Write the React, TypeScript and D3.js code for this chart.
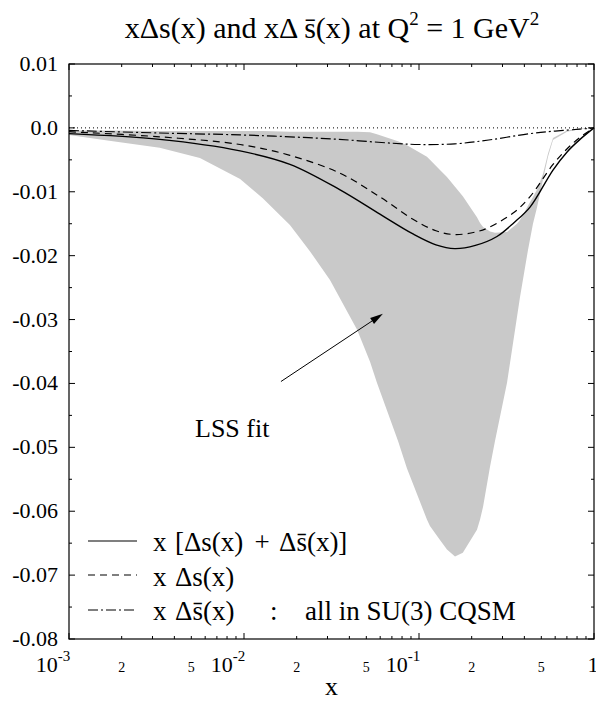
import React from "react";
import * as d3 from "d3";

const W = 596;
const H = 704;
const FONT = "Liberation Serif, Times New Roman, Times, serif";

// x [Δs(x) + Δs̄(x)]  (solid)
const solidX = [0.001, 0.0033, 0.0095, 0.0183, 0.0354, 0.0598, 0.0924, 0.125, 0.16, 0.21, 0.279, 0.35, 0.431, 0.583, 0.70, 0.832, 1];
const solidY = [-0.0009, -0.0018, -0.0036, -0.0057, -0.0097, -0.0135, -0.0166, -0.0183, -0.0189, -0.0184, -0.0170, -0.0148, -0.0124, -0.0066, -0.0038, -0.0018, 0];

// x Δs(x)  (dashed)
const dashedX = [0.001, 0.0033, 0.0095, 0.0183, 0.0354, 0.0598, 0.0924, 0.125, 0.16, 0.21, 0.25, 0.35, 0.43, 0.58, 0.70, 0.83, 1];
const dashedY = [-0.0006, -0.0014, -0.0026, -0.0043, -0.0071, -0.0108, -0.0143, -0.0161, -0.0167, -0.0163, -0.0156, -0.0132, -0.0108, -0.0058, -0.0033, -0.0015, 0];

// x Δs̄(x)  (dash-dot)
const dashDotX = [0.001, 0.0033, 0.0095, 0.0183, 0.035, 0.07, 0.1, 0.16, 0.25, 0.43, 0.6, 0.83, 1];
const dashDotY = [-0.0004, -0.0008, -0.0011, -0.0014, -0.0018, -0.0024, -0.0026, -0.0025, -0.0019, -0.0009, -0.0005, -0.0002, 0];

// LSS fit band
const bandX = [0.001, 0.0017, 0.0033, 0.0056, 0.0095, 0.0128, 0.0183, 0.0238, 0.031, 0.0443, 0.0525, 0.0575, 0.0759, 0.0854, 0.111, 0.1155, 0.1318, 0.1445, 0.1606, 0.178, 0.2144, 0.2233, 0.2323, 0.2547, 0.2718, 0.3184, 0.363, 0.3776, 0.4196, 0.448, 0.472, 0.511, 0.546, 0.583, 0.701, 0.832, 1];
const bandLow = [-0.0011, -0.0020, -0.0031, -0.0047, -0.0080, -0.0110, -0.0152, -0.0193, -0.0238, -0.0316, -0.0366, -0.0399, -0.0490, -0.0533, -0.0613, -0.0623, -0.0645, -0.0660, -0.0671, -0.0665, -0.0629, -0.0613, -0.0593, -0.0530, -0.0490, -0.0399, -0.0296, -0.0265, -0.0191, -0.0150, -0.0125, -0.0081, -0.0045, -0.0019, -0.0006, -0.0002, 0];
const bandHigh = [-0.0004, -0.0004, -0.0005, -0.0005, -0.0005, -0.0005, -0.0006, -0.0006, -0.0006, -0.0006, -0.0007, -0.0010, -0.0021, -0.0027, -0.0045, -0.0050, -0.0066, -0.0077, -0.0092, -0.0107, -0.0140, -0.0149, -0.0155, -0.0162, -0.0164, -0.0163, -0.0150, -0.0144, -0.0122, -0.0108, -0.0097, -0.0072, -0.0040, -0.0016, -0.0004, -0.0001, 0];

const yTicks = [0.01, 0.0, -0.01, -0.02, -0.03, -0.04, -0.05, -0.06, -0.07, -0.08];
const yTickLabels = ["0.01", "0.0", "-0.01", "-0.02", "-0.03", "-0.04", "-0.05", "-0.06", "-0.07", "-0.08"];
const xDecades = [0.001, 0.01, 0.1, 1];
const xDecadeExp = ["-3", "-2", "-1", ""];
const xMinorMult = [2, 3, 4, 5, 6, 7, 8, 9];
const xMinorLabeled = [2, 5];

// arrow annotation (data coords): from -> to
const arrowFrom = [0.01626, -0.0397];
const arrowTo = [0.0622, -0.0291];
const lssLabelPos = [0.00525, -0.0484];

export default function App() {
  const left = 69, right = 594, top = 64, bottom = 639;
  const x = d3.scaleLog().domain([0.001, 1]).range([left, right]);
  const y = d3.scaleLinear().domain([-0.08, 0.01]).range([bottom, top]);

  const line = d3.line<[number, number]>().x(d => x(d[0])).y(d => y(d[1])).curve(d3.curveCatmullRom.alpha(0.5));
  const area = d3.area<number>()
    .x((_, i) => x(bandX[i]))
    .y0((_, i) => y(bandLow[i]))
    .y1((_, i) => y(bandHigh[i]))
    .curve(d3.curveLinear);

  const zip = (a: number[], b: number[]) => a.map((v, i) => [v, b[i]] as [number, number]);

  const minorTicksY = d3.range(0, 19).map(i => 0.01 - i * 0.005);
  const minorX: number[] = [];
  xDecades.slice(0, 3).forEach(dcd => xMinorMult.forEach(m => minorX.push(dcd * m)));

  const ax1 = x(arrowFrom[0]), ay1 = y(arrowFrom[1]);
  const ax2 = x(arrowTo[0]), ay2 = y(arrowTo[1]);
  const ang = Math.atan2(ay2 - ay1, ax2 - ax1);
  const hl = 13, hw = 3.5;
  const bx = ax2 - hl * Math.cos(ang), by = ay2 - hl * Math.sin(ang);
  const head = `${ax2},${ay2} ${bx - hw * Math.sin(ang)},${by + hw * Math.cos(ang)} ${bx + hw * Math.sin(ang)},${by - hw * Math.cos(ang)}`;

  const sbar = "s\u0304";
  const ts = { fontFamily: FONT };
  const LF = 27;

  return (
    <svg width={W} height={H} style={{ position: "absolute", left: 0, top: 0, background: "#fff", fontFamily: FONT }}>
      <rect x={0} y={0} width={W} height={H} fill="#fff" />
      {/* title */}
      <text x={332} y={38} textAnchor="middle" fontSize={30} style={ts}>
        xΔs(x) and xΔ {sbar}(x) at Q<tspan dy={-13} fontSize={19}>2</tspan>
        <tspan dy={13}> = 1 GeV</tspan><tspan dy={-13} fontSize={19}>2</tspan>
      </text>

      {/* band */}
      <path d={area(bandX) || ""} fill="#c9c9c9" stroke="none" />

      {/* zero line */}
      <line x1={left} x2={right} y1={y(0)} y2={y(0)} stroke="#000" strokeWidth={1} strokeDasharray="1,3" />

      {/* curves */}
      <path d={line(zip(dashDotX, dashDotY)) || ""} fill="none" stroke="#000" strokeWidth={1.2} strokeDasharray="10,3,2,3" />
      <path d={line(zip(dashedX, dashedY)) || ""} fill="none" stroke="#000" strokeWidth={1.2} strokeDasharray="7,5" />
      <path d={line(zip(solidX, solidY)) || ""} fill="none" stroke="#000" strokeWidth={1.4} />

      {/* frame */}
      <rect x={left} y={top} width={right - left} height={bottom - top} fill="none" stroke="#000" strokeWidth={1.2} />

      {/* y ticks */}
      {minorTicksY.map((t, i) => {
        const major = i % 2 === 0;
        const len = major ? 6 : 3;
        return (
          <g key={"yt" + i}>
            <line x1={left} x2={left + len} y1={y(t)} y2={y(t)} stroke="#000" />
            <line x1={right} x2={right - len} y1={y(t)} y2={y(t)} stroke="#000" />
          </g>
        );
      })}
      {yTicks.map((t, i) => (
        <text key={"yl" + i} x={left - 11} y={y(t) + 7} textAnchor="end" fontSize={22} style={ts}>{yTickLabels[i]}</text>
      ))}

      {/* x ticks */}
      {xDecades.map((d, i) => (
        <g key={"xd" + i}>
          <line x1={x(d)} x2={x(d)} y1={bottom} y2={bottom - 6} stroke="#000" />
          <line x1={x(d)} x2={x(d)} y1={top} y2={top + 6} stroke="#000" />
        </g>
      ))}
      {minorX.map((d, i) => (
        <g key={"xm" + i}>
          <line x1={x(d)} x2={x(d)} y1={bottom} y2={bottom - 3} stroke="#000" />
          <line x1={x(d)} x2={x(d)} y1={top} y2={top + 3} stroke="#000" />
        </g>
      ))}
      {xDecades.map((d, i) => (
        xDecadeExp[i] ? (
          <text key={"xl" + i} x={x(d) - 16} y={672} textAnchor="middle" fontSize={22} style={ts}>
            10<tspan dy={-11} fontSize={15}>{xDecadeExp[i]}</tspan>
          </text>
        ) : (
          <text key={"xl" + i} x={x(d) - 1} y={672} textAnchor="middle" fontSize={22} style={ts}>1</text>
        )
      ))}
      {xDecades.slice(0, 3).map((dcd, i) => xMinorLabeled.map(m => (
        <text key={"xml" + i + m} x={x(dcd * m)} y={672} textAnchor="middle" fontSize={14} style={ts}>{m}</text>
      )))}
      <text x={(left + right) / 2} y={695} textAnchor="middle" fontSize={26} style={ts}>x</text>

      {/* arrow + LSS label */}
      <line x1={ax1} y1={ay1} x2={bx} y2={by} stroke="#000" strokeWidth={1} />
      <polygon points={head} fill="#000" />
      <text x={x(lssLabelPos[0])} y={y(lssLabelPos[1])} fontSize={26} style={ts}>LSS fit</text>

      {/* legend */}
      <line x1={88} x2={137} y1={541} y2={541} stroke="#000" strokeWidth={1.2} />
      <text x={153} y={551} fontSize={LF} style={ts}>x</text>
      <text x={175} y={551} fontSize={LF} style={ts}>[Δs(x)</text>
      <text x={262} y={551} fontSize={LF} textAnchor="middle" style={ts}>+</text>
      <text x={279} y={551} fontSize={LF} style={ts}>Δ{sbar}(x)]</text>
      <line x1={88} x2={137} y1={575} y2={575} stroke="#000" strokeWidth={1.2} strokeDasharray="7,5" />
      <text x={153} y={586} fontSize={LF} style={ts}>x</text>
      <text x={175} y={586} fontSize={LF} style={ts}>Δs(x)</text>
      <line x1={88} x2={137} y1={610} y2={610} stroke="#000" strokeWidth={1.2} strokeDasharray="10,3,2,3" />
      <text x={153} y={620} fontSize={LF} style={ts}>x</text>
      <text x={175} y={620} fontSize={LF} style={ts}>Δ{sbar}(x)</text>
      <text x={270} y={620} fontSize={LF} style={ts}>:</text>
      <text x={305} y={620} fontSize={LF} style={ts}>all in SU(3) CQSM</text>
    </svg>
  );
}
